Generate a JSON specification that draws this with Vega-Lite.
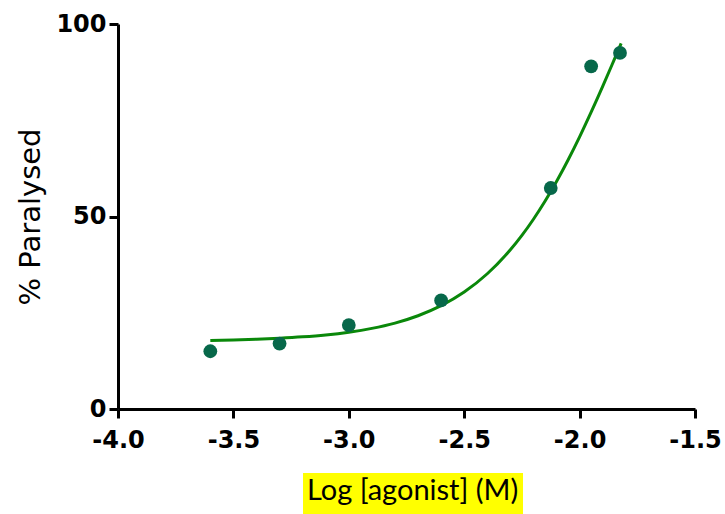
{
  "$schema": "https://vega.github.io/schema/vega-lite/v6.json",
  "width": 577,
  "height": 385,
  "autosize": {"type": "none"},
  "padding": {"left": 118, "top": 24, "right": 30, "bottom": 105},
  "background": "white",
  "config": {
    "view": {"stroke": null},
    "axis": {
      "grid": false,
      "domainColor": "black",
      "domainWidth": 3,
      "tickColor": "black",
      "tickWidth": 3,
      "tickSize": 9,
      "labelFont": "DejaVu Sans",
      "labelFontWeight": "bold",
      "labelFontSize": 24,
      "labelColor": "black",
      "labelFlush": false,
      "labelOverlap": false,
      "titleColor": "black"
    }
  },
  "datasets": {
    "points": [
      {"logConc": -3.6, "paralysed": 15.0},
      {"logConc": -3.3, "paralysed": 17.0},
      {"logConc": -3.0, "paralysed": 21.8},
      {"logConc": -2.6, "paralysed": 28.2},
      {"logConc": -2.125, "paralysed": 57.4},
      {"logConc": -1.95, "paralysed": 89.0},
      {"logConc": -1.825, "paralysed": 92.5}
    ],
    "curve": [
      {"logConc": -3.6, "fit": 17.81},
      {"logConc": -3.5, "fit": 17.94},
      {"logConc": -3.4, "fit": 18.12},
      {"logConc": -3.3, "fit": 18.38},
      {"logConc": -3.2, "fit": 18.74},
      {"logConc": -3.1, "fit": 19.24},
      {"logConc": -3.0, "fit": 19.95},
      {"logConc": -2.9, "fit": 20.94},
      {"logConc": -2.8, "fit": 22.31},
      {"logConc": -2.7, "fit": 24.22},
      {"logConc": -2.6, "fit": 26.84},
      {"logConc": -2.5, "fit": 30.38},
      {"logConc": -2.4, "fit": 35.13},
      {"logConc": -2.3, "fit": 41.35},
      {"logConc": -2.25, "fit": 45.09},
      {"logConc": -2.2, "fit": 49.29},
      {"logConc": -2.15, "fit": 53.95},
      {"logConc": -2.1, "fit": 59.09},
      {"logConc": -2.05, "fit": 64.68},
      {"logConc": -2.0, "fit": 70.7},
      {"logConc": -1.95, "fit": 77.09},
      {"logConc": -1.9, "fit": 83.79},
      {"logConc": -1.85, "fit": 90.75},
      {"logConc": -1.82, "fit": 94.96}
    ]
  },
  "layer": [
    {
      "data": {"name": "curve"},
      "mark": {"type": "line", "color": "#0a880a", "strokeWidth": 3, "interpolate": "monotone"},
      "encoding": {
        "x": {
          "field": "logConc",
          "type": "quantitative",
          "scale": {"domain": [-4, -1.5], "nice": false, "zero": false},
          "axis": {
            "values": [-4, -3.5, -3, -2.5, -2, -1.5],
            "labelExpr": "datum.value < 0 ? '-' + format(-datum.value, '.1f') : format(datum.value, '.1f')",
            "title": null,
            "labelPadding": 10
          }
        },
        "y": {
          "field": "fit",
          "type": "quantitative",
          "scale": {"domain": [0, 100], "nice": false},
          "axis": {
            "values": [0, 50, 100],
            "title": "% Paralysed",
            "titleFont": "DejaVu Sans",
            "titleFontSize": 29,
            "titleFontWeight": "normal",
            "titlePadding": 10,
            "labelPadding": 3
          }
        }
      }
    },
    {
      "data": {"name": "points"},
      "mark": {"type": "circle", "opacity": 1, "size": 190},
      "encoding": {
        "x": {"field": "logConc", "type": "quantitative"},
        "y": {"field": "paralysed", "type": "quantitative"},
        "color": {
          "datum": "Log [agonist] (M)",
          "scale": {"range": ["#07684a"]},
          "legend": {
            "title": "Log [agonist] (M)",
            "orient": "none",
            "legendX": 185,
            "legendY": 449,
            "fillColor": "#ffff00",
            "padding": 4,
            "titleFont": "Lato",
            "titleFontSize": 29,
            "titleFontWeight": "normal",
            "titleColor": "black",
            "titleLimit": 500,
            "titlePadding": 0,
            "symbolSize": 0,
            "symbolStrokeWidth": 0,
            "labelFontSize": 0,
            "labelExpr": "''",
            "rowPadding": 0,
            "offset": 0
          }
        }
      }
    }
  ]
}
